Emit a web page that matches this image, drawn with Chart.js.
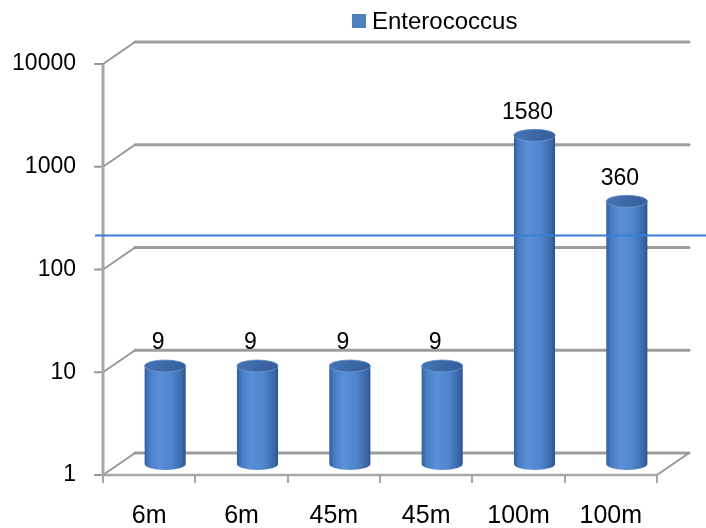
<!DOCTYPE html>
<html>
<head>
<meta charset="utf-8">
<script src="https://cdn.jsdelivr.net/npm/chart.js@4.4.1/dist/chart.umd.min.js"></script>
<style>
  html, body { margin: 0; padding: 0; background: #ffffff; }
  #wrap { width: 706px; height: 528px; }
</style>
</head>
<body>
<div id="wrap"><canvas id="chart" width="706" height="528"></canvas></div>
<script>
// Sampling depths and Enterococcus counts (log scale)
const categories = ['6m', '6m', '45m', '45m', '100m', '100m'];
const enterococcus = [9, 9, 9, 9, 1580, 360];
const yTicks = [1, 10, 100, 1000, 10000];
const referenceLevel = [217];
const seriesName = 'Enterococcus';

const FONT = 'Liberation Sans, Arial, sans-serif';
const SERIES_COLOR = '#4f81bd';
const GRID_COLOR = '#9e9e9e';
const DEPTH_X = 32;   // perspective shift of the back wall
const DEPTH_Y = -22;

function cylinder(ctx, cx, yTop, yBot, w) {
  const rx = w / 2, ry = 6;
  const g = ctx.createLinearGradient(cx - rx, 0, cx + rx, 0);
  g.addColorStop(0, '#32609f');
  g.addColorStop(0.12, '#4a7dc4');
  g.addColorStop(0.35, '#5b90d8');
  g.addColorStop(0.65, '#5085cc');
  g.addColorStop(0.9, '#3b69a9');
  g.addColorStop(1, '#2b5490');
  ctx.save();
  ctx.beginPath();
  ctx.moveTo(cx - rx, yTop);
  ctx.lineTo(cx - rx, yBot);
  ctx.ellipse(cx, yBot, rx, ry, 0, Math.PI, 0, true);
  ctx.lineTo(cx + rx, yTop);
  ctx.ellipse(cx, yTop, rx, ry, 0, 0, Math.PI, true);
  ctx.closePath();
  ctx.fillStyle = g;
  ctx.fill();
  // cap
  const tg = ctx.createLinearGradient(cx - rx, yTop - ry, cx + rx, yTop + ry);
  tg.addColorStop(0, '#4775b5');
  tg.addColorStop(0.5, '#3c68a6');
  tg.addColorStop(1, '#345e9a');
  ctx.beginPath();
  ctx.ellipse(cx, yTop, rx, ry, 0, 0, Math.PI * 2);
  ctx.fillStyle = tg;
  ctx.fill();
  ctx.lineWidth = 1;
  ctx.strokeStyle = 'rgba(110,150,205,0.8)';
  ctx.stroke();
  ctx.restore();
}

const frame3d = {
  id: 'frame3d',
  beforeDatasetsDraw(chart) {
    const { ctx, chartArea: a, scales: { y } } = chart;
    ctx.save();
    ctx.lineCap = 'round';
    // back wall gridlines with depth connectors
    yTicks.forEach(v => {
      const py = y.getPixelForValue(v);
      ctx.strokeStyle = GRID_COLOR;
      ctx.lineWidth = 3;
      ctx.beginPath();
      ctx.moveTo(a.left + DEPTH_X, py + DEPTH_Y);
      ctx.lineTo(a.right + DEPTH_X, py + DEPTH_Y);
      ctx.stroke();
      ctx.strokeStyle = '#979797';
      ctx.lineWidth = 2;
      ctx.beginPath();
      ctx.moveTo(a.left, py);
      ctx.lineTo(a.left + DEPTH_X, py + DEPTH_Y);
      ctx.stroke();
      // tick mark
      ctx.beginPath();
      ctx.moveTo(a.left - 8, py);
      ctx.lineTo(a.left, py);
      ctx.stroke();
    });
    // floor right edge
    ctx.strokeStyle = '#979797';
    ctx.lineWidth = 2;
    ctx.beginPath();
    ctx.moveTo(a.right, a.bottom);
    ctx.lineTo(a.right + DEPTH_X, a.bottom + DEPTH_Y);
    ctx.stroke();
    // value axis
    ctx.lineCap = 'butt';
    ctx.strokeStyle = '#a6a6a6';
    ctx.lineWidth = 3;
    ctx.beginPath();
    ctx.moveTo(a.left, a.top);
    ctx.lineTo(a.left, a.bottom + 1);
    ctx.stroke();
    // category axis
    ctx.lineWidth = 2.5;
    ctx.beginPath();
    ctx.moveTo(a.left, a.bottom);
    ctx.lineTo(a.right, a.bottom);
    ctx.stroke();
    const n = categories.length;
    const step = (a.right - a.left) / n;
    ctx.lineWidth = 2;
    for (let i = 0; i <= n; i++) {
      const px = Math.round(a.left + i * step);
      ctx.beginPath();
      ctx.moveTo(px, a.bottom);
      ctx.lineTo(px, a.bottom + 8);
      ctx.stroke();
    }
    ctx.restore();
  },
  beforeDatasetDraw() {
    return false;
  },
  afterDatasetsDraw(chart) {
    const { ctx, chartArea: a, scales: { y } } = chart;
    const meta = chart.getDatasetMeta(0);
    const base = a.bottom + DEPTH_Y / 2;
    meta.data.forEach(bar => {
      const p = bar.getProps(['x', 'y', 'width'], true);
      cylinder(ctx, p.x + DEPTH_X / 2, p.y + DEPTH_Y / 2, base, p.width);
    });
    // reference level line
    ctx.save();
    referenceLevel.forEach(v => {
      const py = Math.round(y.getPixelForValue(v)) + 0.5;
      ctx.strokeStyle = '#3b7dd8';
      ctx.lineWidth = 2;
      ctx.beginPath();
      ctx.moveTo(a.left - 8, py);
      ctx.lineTo(chart.width, py);
      ctx.stroke();
    });
    // value labels
    ctx.fillStyle = '#000000';
    ctx.font = '23px ' + FONT;
    ctx.textAlign = 'center';
    ctx.textBaseline = 'middle';
    meta.data.forEach((bar, i) => {
      const p = bar.getProps(['x', 'y'], true);
      ctx.fillText(String(chart.data.datasets[0].data[i]), p.x + 9, p.y - 34);
    });
    // legend
    const label = chart.data.datasets[0].label;
    ctx.textAlign = 'left';
    ctx.fillStyle = chart.data.datasets[0].backgroundColor;
    ctx.fillRect(352, 14, 14, 14);
    ctx.fillStyle = '#000000';
    ctx.font = '24px ' + FONT;
    ctx.fillText(label, 372, 22);
    ctx.restore();
  }
};

new Chart(document.getElementById('chart'), {
  type: 'bar',
  data: {
    labels: categories,
    datasets: [{
      label: seriesName,
      data: enterococcus,
      backgroundColor: SERIES_COLOR,
      categoryPercentage: 1,
      barPercentage: 0.445
    }]
  },
  options: {
    responsive: false,
    animation: false,
    devicePixelRatio: 1,
    layout: { padding: { top: 64, right: 49, left: 0, bottom: 0 } },
    plugins: {
      legend: { display: false },
      tooltip: { enabled: false },
      title: { display: false }
    },
    scales: {
      x: {
        grid: { display: false, drawTicks: false },
        border: { display: false },
        ticks: {
          padding: 26,
          color: '#000000',
          font: { family: FONT, size: 25 },
          maxRotation: 0
        },
        afterFit: s => { s.height = 53; }
      },
      y: {
        type: 'logarithmic',
        min: 1,
        max: 10000,
        grid: { display: false, drawTicks: false },
        border: { display: false },
        afterBuildTicks: s => { s.ticks = yTicks.map(v => ({ value: v })); },
        ticks: {
          padding: 27,
          color: '#000000',
          font: { family: FONT, size: 23 },
          callback: v => String(v)
        },
        afterFit: s => { s.width = 103; }
      }
    }
  },
  plugins: [frame3d]
});
</script>
</body>
</html>
